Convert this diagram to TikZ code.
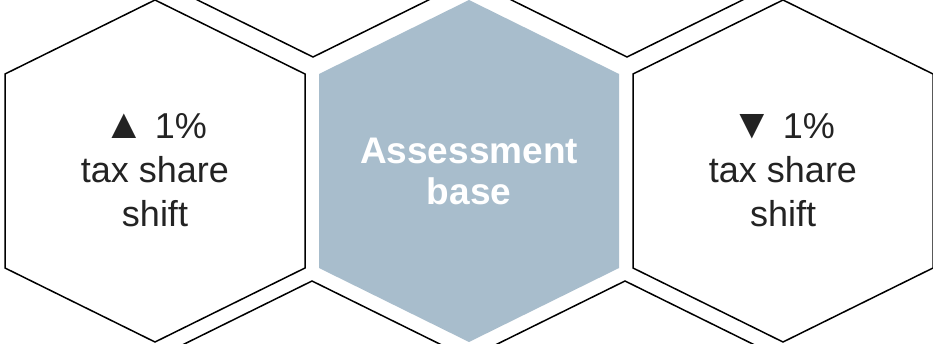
\documentclass[tikz,border=0pt]{standalone}
\usepackage{fontspec}
\setmainfont{Liberation Sans}
\definecolor{hexfill}{RGB}{168,189,204}
\definecolor{txtgray}{RGB}{35,35,35}
\tikzset{
  hexline/.style={draw=black, line width=1.5pt, line join=miter},
  hexsolid/.style={fill=hexfill, draw=none},
  sidetext/.style={align=center, text=txtgray, inner sep=0pt,
    font=\fontsize{36}{44}\selectfont},
  midtext/.style={align=center, text=white, inner sep=0pt,
    font=\bfseries\fontsize{37}{41}\selectfont},
}
\newcommand{\hexat}[3]{% style, cx, cy
  \path[#1] (#2,#3) ++(0,171) -- ++(150,-74) -- ++(0,-194) -- ++(-150,-74)
     -- ++(-150,74) -- ++(0,194) -- cycle;}
\newcommand{\tri}[1]{{\fontsize{42}{42}\selectfont #1}}
\begin{document}
\begin{tikzpicture}[x=1pt,y=1pt]
\useasboundingbox (0,0) rectangle (933,343);
\fill[white] (0,0) rectangle (933,343);
\begin{scope}
\clip (0,0) rectangle (933,343);
% upper partial hexagons
\hexat{hexline}{313}{457}
\hexat{hexline}{627}{457}
% lower partial hexagons
\hexat{hexline}{312}{-109}
\hexat{hexline}{625}{-109}
% main row
\hexat{hexline}{155}{172}
\hexat{hexsolid}{469}{172}
\hexat{hexline}{783}{172}
\end{scope}
\node[sidetext] (left) at (155,173) {\tri{▲} 1\%\\tax share\\shift};
\node[midtext] (mid) at (469,172) {Assessment\\base};
\node[sidetext] (right) at (783,173) {\tri{▼} 1\%\\tax share\\shift};
\end{tikzpicture}
\end{document}
